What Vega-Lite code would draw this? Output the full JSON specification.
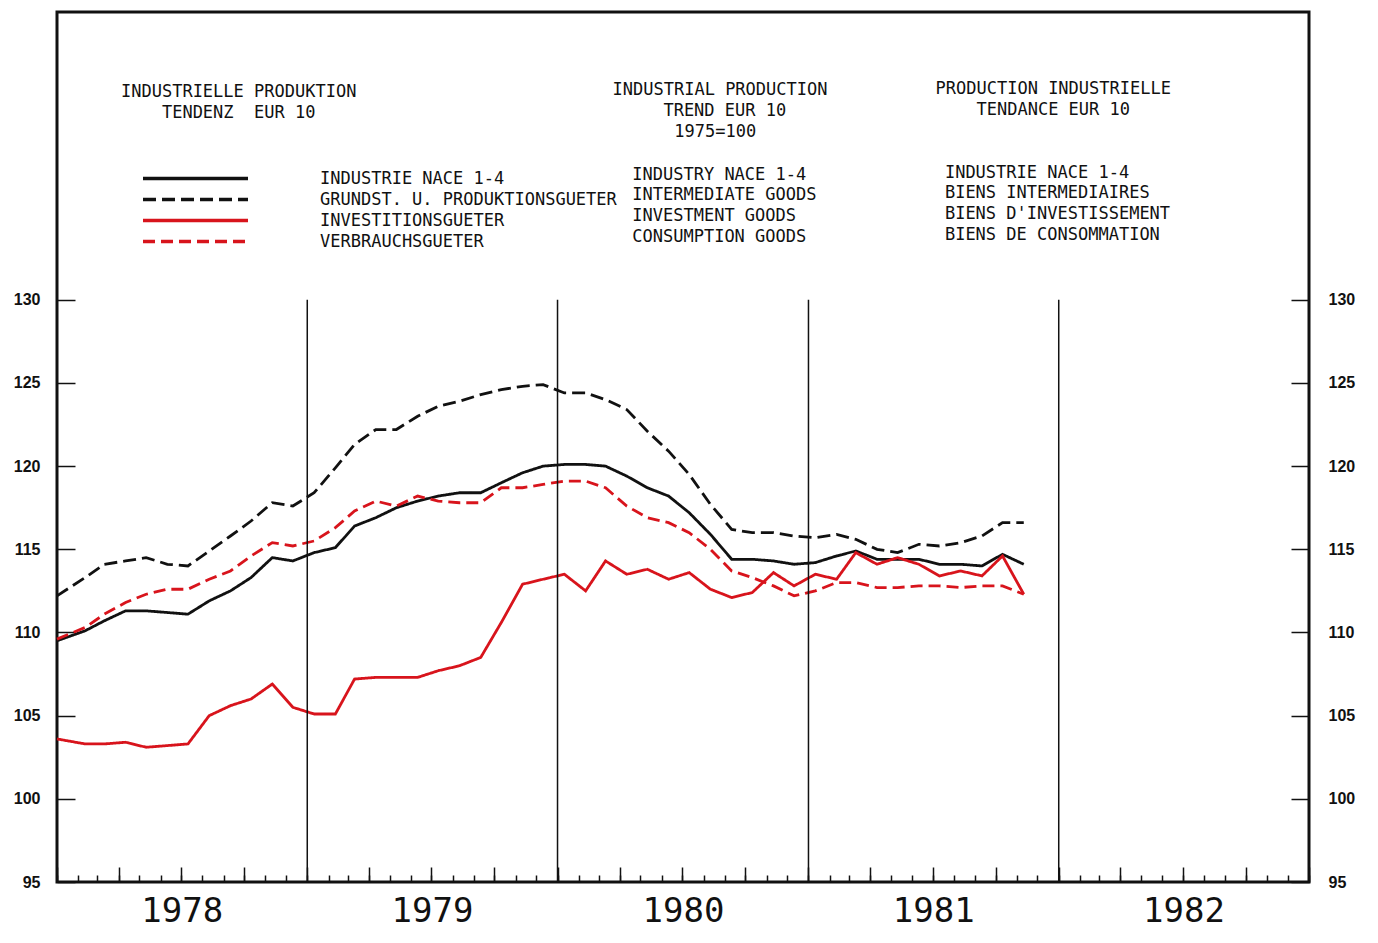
{
  "$schema": "https://vega.github.io/schema/vega-lite/v6.json",
  "width": 1252,
  "height": 870,
  "autosize": {"type": "none"},
  "padding": {"left": 57, "top": 12, "right": 69, "bottom": 61},
  "background": "white",
  "config": {
    "view": {"stroke": "#111111", "strokeWidth": 3},
    "font": "DejaVu Sans Mono",
    "axis": {"domain": false, "grid": false, "title": null, "tickColor": "#111111", "labelColor": "#111111", "tickWidth": 1.5}
  },
  "datasets": {
    "series": [
      {"date": "1978-01-01", "ind": 109.5, "int": 112.2, "inv": 103.6, "con": 109.6},
      {"date": "1978-02-11", "ind": 110.1, "int": 113.3, "inv": 103.3, "con": 110.3},
      {"date": "1978-03-11", "ind": 110.7, "int": 114.1, "inv": 103.3, "con": 111.1},
      {"date": "1978-04-11", "ind": 111.3, "int": 114.3, "inv": 103.4, "con": 111.8},
      {"date": "1978-05-11", "ind": 111.3, "int": 114.5, "inv": 103.1, "con": 112.3},
      {"date": "1978-06-11", "ind": 111.2, "int": 114.1, "inv": 103.2, "con": 112.6},
      {"date": "1978-07-11", "ind": 111.1, "int": 114.0, "inv": 103.3, "con": 112.6},
      {"date": "1978-08-11", "ind": 111.9, "int": 114.9, "inv": 105.0, "con": 113.2},
      {"date": "1978-09-11", "ind": 112.5, "int": 115.8, "inv": 105.6, "con": 113.7},
      {"date": "1978-10-11", "ind": 113.3, "int": 116.7, "inv": 106.0, "con": 114.6},
      {"date": "1978-11-11", "ind": 114.5, "int": 117.8, "inv": 106.9, "con": 115.4},
      {"date": "1978-12-11", "ind": 114.3, "int": 117.6, "inv": 105.5, "con": 115.2},
      {"date": "1979-01-11", "ind": 114.8, "int": 118.4, "inv": 105.1, "con": 115.5},
      {"date": "1979-02-11", "ind": 115.1, "int": 119.9, "inv": 105.1, "con": 116.3},
      {"date": "1979-03-11", "ind": 116.4, "int": 121.3, "inv": 107.2, "con": 117.3},
      {"date": "1979-04-11", "ind": 116.9, "int": 122.2, "inv": 107.3, "con": 117.9},
      {"date": "1979-05-11", "ind": 117.5, "int": 122.2, "inv": 107.3, "con": 117.6},
      {"date": "1979-06-11", "ind": 117.9, "int": 123.0, "inv": 107.3, "con": 118.2},
      {"date": "1979-07-11", "ind": 118.2, "int": 123.6, "inv": 107.7, "con": 117.9},
      {"date": "1979-08-11", "ind": 118.4, "int": 123.9, "inv": 108.0, "con": 117.8},
      {"date": "1979-09-11", "ind": 118.4, "int": 124.3, "inv": 108.5, "con": 117.8},
      {"date": "1979-10-11", "ind": 119.0, "int": 124.6, "inv": 110.6, "con": 118.7},
      {"date": "1979-11-11", "ind": 119.6, "int": 124.8, "inv": 112.9, "con": 118.7},
      {"date": "1979-12-11", "ind": 120.0, "int": 124.9, "inv": 113.2, "con": 118.9},
      {"date": "1980-01-11", "ind": 120.1, "int": 124.4, "inv": 113.5, "con": 119.1},
      {"date": "1980-02-11", "ind": 120.1, "int": 124.4, "inv": 112.5, "con": 119.1},
      {"date": "1980-03-11", "ind": 120.0, "int": 124.0, "inv": 114.3, "con": 118.7},
      {"date": "1980-04-11", "ind": 119.4, "int": 123.4, "inv": 113.5, "con": 117.6},
      {"date": "1980-05-11", "ind": 118.7, "int": 122.1, "inv": 113.8, "con": 116.9},
      {"date": "1980-06-11", "ind": 118.2, "int": 120.9, "inv": 113.2, "con": 116.6},
      {"date": "1980-07-11", "ind": 117.2, "int": 119.5, "inv": 113.6, "con": 116.0},
      {"date": "1980-08-11", "ind": 115.9, "int": 117.7, "inv": 112.6, "con": 115.0},
      {"date": "1980-09-11", "ind": 114.4, "int": 116.2, "inv": 112.1, "con": 113.7},
      {"date": "1980-10-11", "ind": 114.4, "int": 116.0, "inv": 112.4, "con": 113.3},
      {"date": "1980-11-11", "ind": 114.3, "int": 116.0, "inv": 113.6, "con": 112.8},
      {"date": "1980-12-11", "ind": 114.1, "int": 115.8, "inv": 112.8, "con": 112.2},
      {"date": "1981-01-11", "ind": 114.2, "int": 115.7, "inv": 113.5, "con": 112.5},
      {"date": "1981-02-11", "ind": 114.6, "int": 115.9, "inv": 113.2, "con": 113.0},
      {"date": "1981-03-11", "ind": 114.9, "int": 115.6, "inv": 114.8, "con": 113.0},
      {"date": "1981-04-11", "ind": 114.4, "int": 115.0, "inv": 114.1, "con": 112.7},
      {"date": "1981-05-11", "ind": 114.4, "int": 114.8, "inv": 114.5, "con": 112.7},
      {"date": "1981-06-11", "ind": 114.4, "int": 115.3, "inv": 114.1, "con": 112.8},
      {"date": "1981-07-11", "ind": 114.1, "int": 115.2, "inv": 113.4, "con": 112.8},
      {"date": "1981-08-11", "ind": 114.1, "int": 115.4, "inv": 113.7, "con": 112.7},
      {"date": "1981-09-11", "ind": 114.0, "int": 115.8, "inv": 113.4, "con": 112.8},
      {"date": "1981-10-11", "ind": 114.7, "int": 116.6, "inv": 114.6, "con": 112.8},
      {"date": "1981-11-11", "ind": 114.1, "int": 116.6, "inv": 112.3, "con": 112.3}
    ],
    "years": [
      {"date": "1979-01-01"},
      {"date": "1980-01-01"},
      {"date": "1981-01-01"},
      {"date": "1982-01-01"}
    ],
    "titles": [
      {"date": "1978-09-23", "v": 142.49, "t": "INDUSTRIELLE PRODUKTION"},
      {"date": "1978-09-23", "v": 141.23, "t": "TENDENZ\u00a0 EUR 10"},
      {"date": "1980-08-25", "v": 142.61, "t": "INDUSTRIAL PRODUCTION"},
      {"date": "1980-09-01", "v": 141.36, "t": "TREND EUR 10"},
      {"date": "1980-08-18", "v": 140.09, "t": "1975=100"},
      {"date": "1981-12-24", "v": 142.67, "t": "PRODUCTION INDUSTRIELLE"},
      {"date": "1981-12-24", "v": 141.42, "t": "TENDANCE EUR 10"}
    ],
    "columns": [
      {"date": "1980-04-19", "v": 137.50, "t": "INDUSTRY NACE 1-4"},
      {"date": "1980-04-19", "v": 136.30, "t": "INTERMEDIATE GOODS"},
      {"date": "1980-04-19", "v": 135.04, "t": "INVESTMENT GOODS"},
      {"date": "1980-04-19", "v": 133.78, "t": "CONSUMPTION GOODS"},
      {"date": "1981-07-19", "v": 137.62, "t": "INDUSTRIE NACE 1-4"},
      {"date": "1981-07-19", "v": 136.42, "t": "BIENS INTERMEDIAIRES"},
      {"date": "1981-07-19", "v": 135.18, "t": "BIENS D'INVESTISSEMENT"},
      {"date": "1981-07-19", "v": 133.92, "t": "BIENS DE CONSOMMATION"}
    ]
  },
  "layer": [
    {
      "data": {"name": "series"},
      "transform": [{"fold": ["ind", "int", "inv", "con"], "as": ["s", "v"]}],
      "mark": {"type": "line", "strokeWidth": 2.8},
      "encoding": {
        "x": {
          "field": "date", "type": "temporal",
          "scale": {"type": "utc", "domain": [{"year": 1978, "month": 1, "date": 1, "utc": true}, {"year": 1983, "month": 1, "date": 1, "utc": true}]},
          "axis": {"orient": "bottom", "tickCount": {"interval": "month", "step": 1}, "tickSize": -7, "labels": false}
        },
        "y": {
          "field": "v", "type": "quantitative",
          "scale": {"domain": [95, 147.3], "nice": false, "zero": false},
          "axis": {"orient": "left", "values": [95, 100, 105, 110, 115, 120, 125, 130], "tickSize": -18, "labelFont": "Liberation Sans", "labelFontWeight": "bold", "labelFontSize": 16, "labelPadding": 35}
        },
        "color": {
          "field": "s", "type": "nominal",
          "scale": {"domain": ["ind", "int", "inv", "con"], "range": ["#111111", "#111111", "#d8141c", "#d8141c"]},
          "legend": {"title": null, "orient": "none", "legendX": 126, "legendY": 154, "padding": 0, "symbolType": "M-5,0H5", "symbolSize": 441, "symbolStrokeWidth": 3.5, "labelOffset": 112, "labelFont": "DejaVu Sans Mono", "labelFontSize": 17, "labelColor": "#111111", "labelLimit": 0, "rowPadding": 0,
            "labelExpr": "datum.label == 'ind' ? 'INDUSTRIE NACE 1-4' : datum.label == 'int' ? 'GRUNDST. U. PRODUKTIONSGUETER' : datum.label == 'inv' ? 'INVESTITIONSGUETER' : 'VERBRAUCHSGUETER'"}
        },
        "strokeDash": {
          "field": "s", "type": "nominal",
          "scale": {"domain": ["ind", "int", "inv", "con"], "range": [[1, 0], [13, 6], [1, 0], [12, 6]]},
          "legend": {"title": null, "orient": "none", "legendX": 126, "legendY": 154, "padding": 0, "symbolType": "M-5,0H5", "symbolSize": 441, "symbolStrokeWidth": 3.5, "labelOffset": 112, "labelFont": "DejaVu Sans Mono", "labelFontSize": 17, "labelColor": "#111111", "labelLimit": 0, "rowPadding": 0,
            "labelExpr": "datum.label == 'ind' ? 'INDUSTRIE NACE 1-4' : datum.label == 'int' ? 'GRUNDST. U. PRODUKTIONSGUETER' : datum.label == 'inv' ? 'INVESTITIONSGUETER' : 'VERBRAUCHSGUETER'"}
        }
      }
    },
    {
      "data": {"name": "years"},
      "mark": {"type": "rule", "color": "#111111", "strokeWidth": 1.5},
      "encoding": {
        "x": {"field": "date", "type": "temporal", "axis": {"orient": "bottom", "tickCount": {"interval": "month", "step": 3}, "tickSize": -15, "labels": false}},
        "y": {"datum": 130, "type": "quantitative", "axis": {"orient": "right", "values": [95, 100, 105, 110, 115, 120, 125, 130], "tickSize": -18, "labelFont": "Liberation Sans", "labelFontWeight": "bold", "labelFontSize": 16, "labelPadding": 37}},
        "y2": {"datum": 95}
      }
    },
    {
      "data": {"name": "titles"},
      "mark": {"type": "text", "font": "DejaVu Sans Mono", "fontSize": 17, "color": "#111111", "align": "center", "baseline": "middle"},
      "encoding": {
        "x": {"field": "date", "type": "temporal", "axis": {
          "orient": "bottom",
          "values": [{"year": 1978, "month": 7, "date": 2, "utc": true}, {"year": 1979, "month": 7, "date": 2, "utc": true}, {"year": 1980, "month": 7, "date": 2, "utc": true}, {"year": 1981, "month": 7, "date": 2, "utc": true}, {"year": 1982, "month": 7, "date": 2, "utc": true}],
          "format": "%Y", "ticks": false, "labelFont": "DejaVu Sans Mono", "labelFontSize": 34, "labelPadding": 12, "labelFlush": false, "labelOverlap": false}},
        "y": {"field": "v", "type": "quantitative", "axis": null},
        "text": {"field": "t"}
      }
    },
    {
      "data": {"name": "columns"},
      "mark": {"type": "text", "font": "DejaVu Sans Mono", "fontSize": 17, "color": "#111111", "align": "left", "baseline": "middle"},
      "encoding": {
        "x": {"field": "date", "type": "temporal", "axis": null},
        "y": {"field": "v", "type": "quantitative", "axis": null},
        "text": {"field": "t"}
      }
    }
  ],
  "resolve": {"axis": {"x": "independent", "y": "independent"}}
}
